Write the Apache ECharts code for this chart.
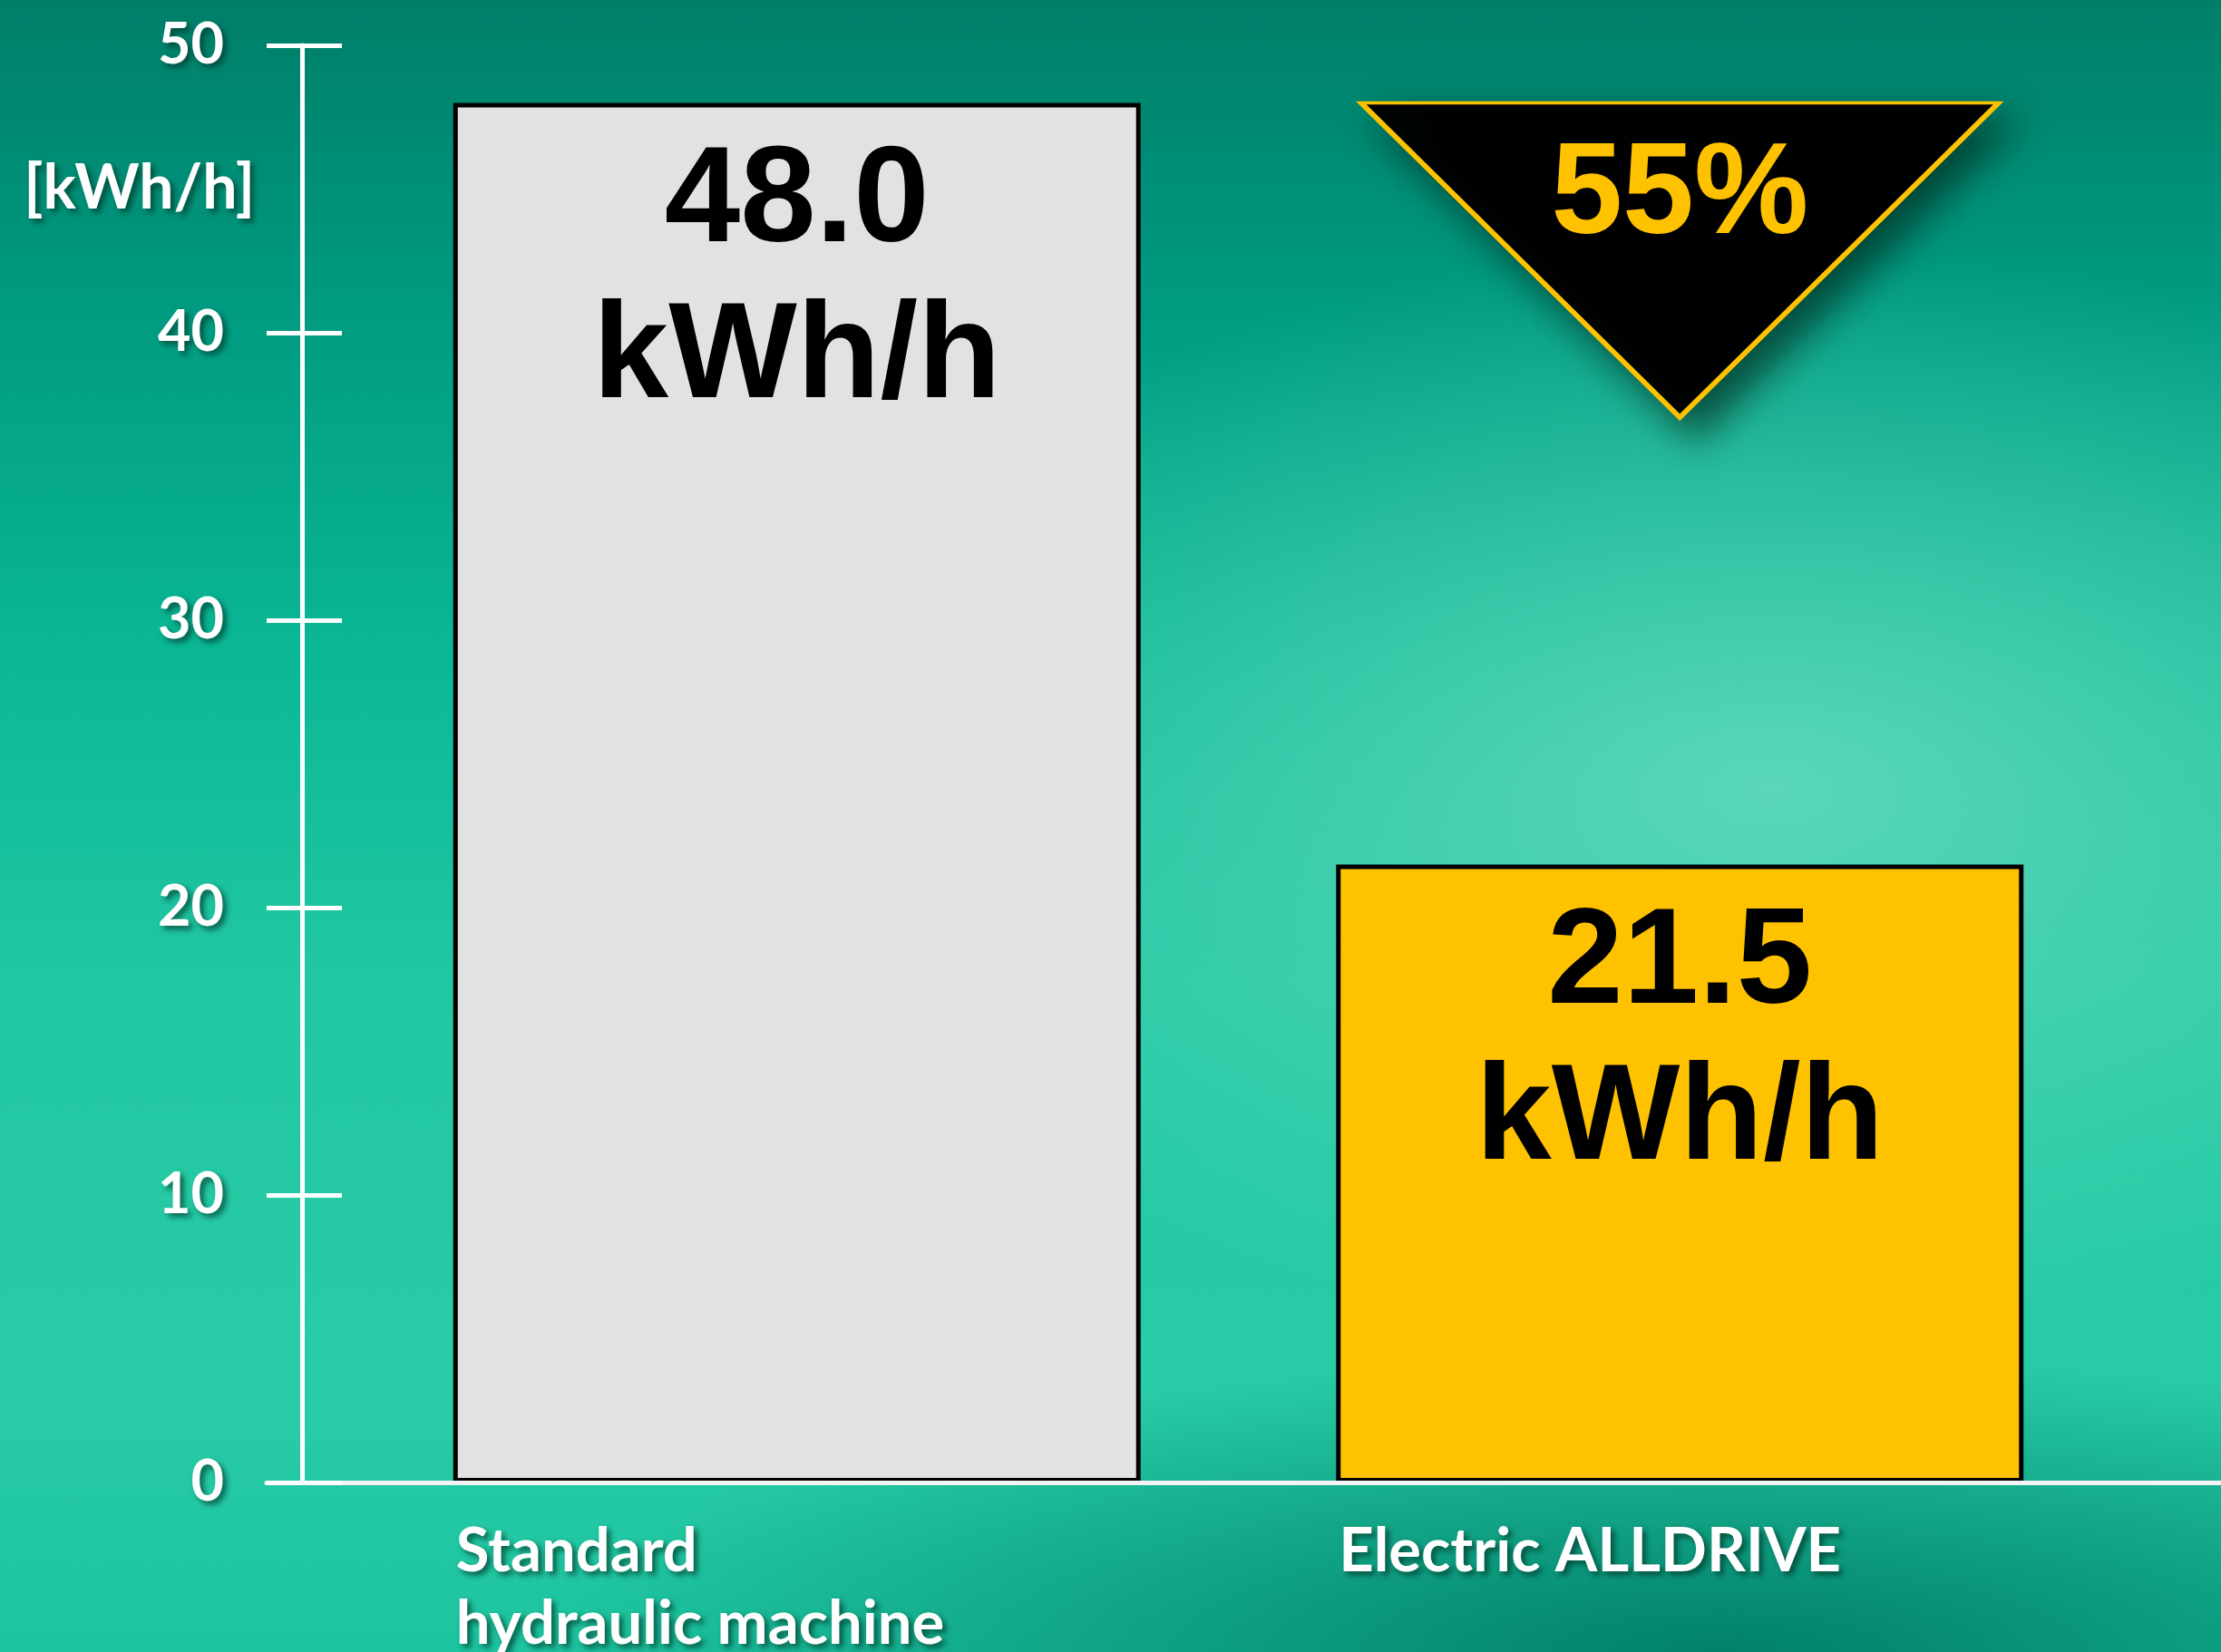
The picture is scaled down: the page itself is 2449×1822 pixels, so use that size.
<!DOCTYPE html>
<html>
<head>
<meta charset="utf-8">
<script src="https://cdn.jsdelivr.net/npm/echarts@6/dist/echarts.min.js"></script>
<style>
  html, body { margin: 0; padding: 0; }
  #chart {
    width: 2449px; height: 1822px;
    background:
      radial-gradient(ellipse 1300px 330px at 1900px 1822px, rgba(0,125,102,0.95), rgba(0,125,102,0) 100%),
      radial-gradient(ellipse 1150px 600px at 1950px 870px, rgba(98,218,188,0.9), rgba(98,218,188,0) 100%),
      linear-gradient(180deg, #007e68 0%, #009a80 18%, #0bb895 40%, #22c8a3 60%, #28cca7 85%, #1cc49f 100%);
  }
</style>
</head>
<body>
<div id="chart"></div>
<script>
// ---- data ----
const categories = ['Standard\nhydraulic machine', 'Electric ALLDRIVE'];
const consumption = [48.0, 21.5];           // kWh/h
const barColors = ['#e2e2e2', '#ffc200'];
const yTicks = [0, 10, 20, 30, 40, 50];
const unitLabel = '[kWh/h]';
const valueUnit = 'kWh/h';

const saving = Math.round((1 - consumption[1] / consumption[0]) * 100);

const chart = echarts.init(document.getElementById('chart'), null, { renderer: 'canvas' });

const shadowText = {
  textShadowColor: 'rgba(0,55,42,0.75)',
  textShadowBlur: 6,
  textShadowOffsetX: 4,
  textShadowOffsetY: 4
};

const option = {
  backgroundColor: 'transparent',
  animation: false,
  grid: [
    { left: 392, right: 110, top: 50, bottom: 187, containLabel: false, outerBoundsMode: 'none' },
    { left: 294, right: 0, top: 50, bottom: 187, containLabel: false, outerBoundsMode: 'none' }
  ],
  xAxis: [
    {
      type: 'category', gridIndex: 0, data: categories,
      axisLine: { show: false }, axisTick: { show: false },
      axisLabel: Object.assign({
        interval: 0, color: '#ffffff', fontFamily: 'Lato', fontWeight: 'bold',
        fontSize: 67, lineHeight: 80, align: 'left', margin: 36,
        padding: [0, 0, 0, -376]
      }, shadowText)
    },
    {
      type: 'value', gridIndex: 1, min: 0, max: 1, z: 10,
      axisLine: { show: true, lineStyle: { color: '#f4f4f4', width: 5 } },
      axisTick: { show: false }, axisLabel: { show: false }, splitLine: { show: false }
    }
  ],
  yAxis: [
    {
      type: 'value', gridIndex: 0, position: 'left',
      min: yTicks[0], max: yTicks[yTicks.length - 1], interval: 10,
      offset: 59, z: 10,
      name: unitLabel, nameLocation: 'end', nameGap: -158,
      nameTextStyle: Object.assign({
        color: '#ffffff', fontFamily: 'Lato', fontWeight: 'bold', fontSize: 68,
        align: 'right', verticalAlign: 'middle', padding: [0, 52, 0, 0]
      }, shadowText),
      axisLine: { show: true, lineStyle: { color: '#ffffff', width: 5 } },
      axisTick: { show: true, inside: false, length: 39, lineStyle: { color: '#ffffff', width: 5 } },
      axisLabel: Object.assign({
        color: '#ffffff', fontFamily: 'Lato', fontWeight: 'bold', fontSize: 63, margin: 86
      }, shadowText),
      splitLine: { show: false }
    },
    {
      type: 'value', gridIndex: 0, position: 'left',
      min: yTicks[0], max: yTicks[yTicks.length - 1], interval: 10,
      offset: 59, z: 10,
      axisLine: { show: false },
      axisTick: { show: true, inside: true, length: 44, lineStyle: { color: '#ffffff', width: 5 } },
      axisLabel: { show: false }, splitLine: { show: false }
    },
    { type: 'value', gridIndex: 1, show: false, min: 0, max: 50 }
  ],
  series: [
    {
      type: 'bar', xAxisIndex: 0, yAxisIndex: 0,
      barWidth: 758,
      data: consumption.map((v, i) => ({
        value: v,
        itemStyle: { color: barColors[i], borderColor: '#000000', borderWidth: 5, opacity: 1 }
      })),
      label: {
        show: true, position: 'insideTop', distance: 25,
        color: '#000000', fontFamily: 'Liberation Sans', fontWeight: 'bold',
        fontSize: 150, lineHeight: 172,
        formatter: p => p.value.toFixed(1) + '\n' + valueUnit
      }
    },
    {
      type: 'scatter', xAxisIndex: 0, yAxisIndex: 0, z: 5,
      symbol: 'path://M0,0L100,0L50,100Z',
      symbolKeepAspect: false,
      symbolSize: [703, 347],
      symbolOffset: [0, '50%'],
      data: [[1, consumption[0]]],
      itemStyle: {
        color: '#000000', borderColor: '#ffc200', borderWidth: 5, opacity: 1,
        shadowColor: 'rgba(0,45,35,0.75)', shadowBlur: 40, shadowOffsetX: 18, shadowOffsetY: 20
      },
      label: {
        show: true, position: 'inside', offset: [0, -69],
        formatter: saving + '%',
        color: '#ffc200', fontFamily: 'Liberation Sans', fontWeight: 'bold', fontSize: 142
      },
      emphasis: { disabled: true }
    }
  ]
};

chart.setOption(option);
</script>
</body>
</html>
